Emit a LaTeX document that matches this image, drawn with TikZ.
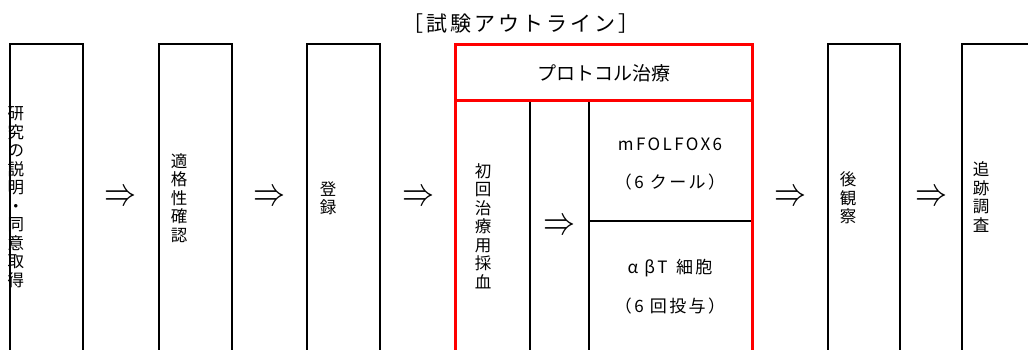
\documentclass[tikz,border=0pt]{standalone}
\usepackage{graphicx}
\usepackage{fontspec}
\setmainfont{Noto Sans CJK JP}
\newfontfamily\lblfont[LetterSpace=14]{Noto Sans CJK JP}
\newcommand{\bigimp}{\scalebox{3.2}[4.0]{$\Rightarrow$}}
\begin{document}
\begin{tikzpicture}[x=1pt,y=-1pt,
  blk/.style={draw=black,line width=2pt},
  redl/.style={draw=red,line width=3pt},
  vtext/.style={align=center,inner sep=0pt,font=\fontsize{16.5}{18.5}\selectfont},
  hdr/.style={inner sep=0pt,font=\fontsize{19}{22}\selectfont},
  lbl/.style={inner sep=0pt,font=\lblfont\fontsize{17}{20}\selectfont},
  arr/.style={inner sep=0pt}]
\useasboundingbox (0,0) rectangle (1028,349);
\clip (0,0) rectangle (1028,349);
\fill[white] (0,0) rectangle (1028,349);
% boxes
\draw[blk] (9.5,360) -- (9.5,43.5) -- (82.5,43.5) -- (82.5,360);
\draw[blk] (158.5,360) -- (158.5,43.5) -- (231.5,43.5) -- (231.5,360);
\draw[blk] (307,360) -- (307,43.5) -- (380,43.5) -- (380,360);
\draw[blk] (828,360) -- (828,43.5) -- (900,43.5) -- (900,360);
\draw[blk] (962,360) -- (962,43.5) -- (1040,43.5);
% inner protocol lines
\draw[blk] (530,100) -- (530,360);
\draw[blk] (589,100) -- (589,360);
\draw[blk] (589,221) -- (752,221);
% red frame
\draw[redl] (455,360) -- (455,44.5) -- (752,44.5) -- (752,360);
\draw[redl] (455,100) -- (752,100);
% title
\node[inner sep=0pt,font=\lblfont\fontsize{21}{24}\selectfont] (title) at (521,24) {［試験アウトライン］};
% vertical texts
\node[vtext] (t1) at (16,197) {研\\究\\の\\説\\明\\・\\同\\意\\取\\得};
\node[vtext] (t2) at (179,198) {適\\格\\性\\確\\認};
\node[vtext] (t3) at (328,198) {登\\録};
\node[vtext] (t4) at (483,226) {初\\回\\治\\療\\用\\採\\血};
\node[vtext] (t5) at (848,198) {後\\観\\察};
\node[vtext] (t6) at (981,197) {追\\跡\\調\\査};
% header & labels
\node[hdr] (h) at (604,73) {プロトコル治療};
\node[lbl] (m1) at (670,144) {mFOLFOX6};
\node[lbl] (m2) at (670,182) {（6 クール）};
\node[lbl] (a1) at (670,268) {α βT\enspace 細胞};
\node[lbl] (a2) at (670,306) {（6 回投与）};
% arrows
\node[arr] (r1) at (120,198) {\bigimp};
\node[arr] (r2) at (269,198) {\bigimp};
\node[arr] (r3) at (418,198) {\bigimp};
\node[arr] (r4) at (559,227) {\bigimp};
\node[arr] (r5) at (790,198) {\bigimp};
\node[arr] (r6) at (931,198) {\bigimp};
\end{tikzpicture}
\end{document}
